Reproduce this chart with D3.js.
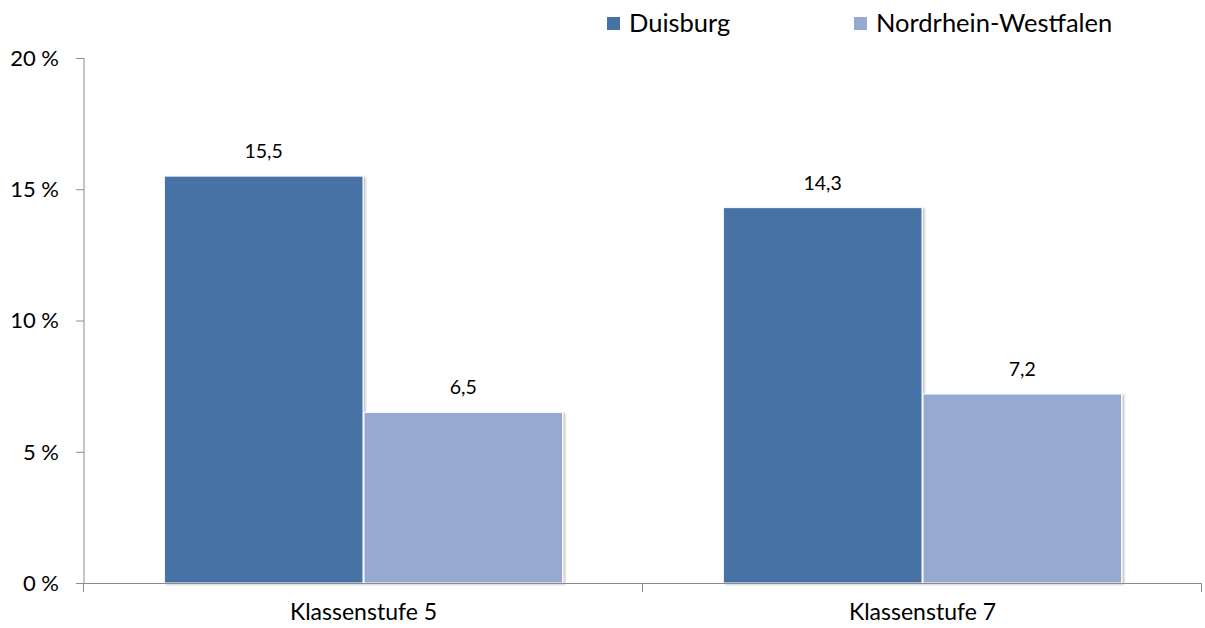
<!DOCTYPE html>
<html><head><meta charset="utf-8">
<script src="https://cdn.jsdelivr.net/npm/d3@7"></script>
<style>body{margin:0;background:#fff;} svg{display:block;font-family:Lato,"Open Sans",sans-serif;}</style>
</head><body>
<script>
const categories = ["Klassenstufe 5", "Klassenstufe 7"];
const seriesNames = ["Duisburg", "Nordrhein-Westfalen"];
const duisburg = [15.5, 14.3];
const nrw = [6.5, 7.2];
const yTicks = [0, 5, 10, 15, 20];
const colors = ["#4672A6", "#96AAD1"];

const W = 1205, H = 628;
const svg = d3.select("body").append("svg").attr("width", W).attr("height", H);
const defs = svg.append("defs");
const f = defs.append("filter").attr("id","sh").attr("x","-5%").attr("y","-5%").attr("width","115%").attr("height","115%");
f.append("feDropShadow").attr("dx",2).attr("dy",1).attr("stdDeviation",1.2).attr("flood-color","#000").attr("flood-opacity",0.25);

const x0 = d3.scaleBand().domain(categories).range([84, 1202]).paddingInner(0).paddingOuter(0);
const x1 = d3.scaleBand().domain(seriesNames).range([0, x0.bandwidth()]).paddingOuter(0.4).paddingInner(0.0);
const y = d3.scaleLinear().domain([0, 20]).range([583, 58]);

const data = categories.map((c, i) => ({cat: c, vals: [duisburg[i], nrw[i]]}));

// Bars
const g = svg.append("g");
data.forEach(d => {
  d.vals.forEach((v, j) => {
    const bx = x0(d.cat) + x1(seriesNames[j]);
    g.append("rect").attr("x", bx + 0.5).attr("y", y(v)).attr("width", x1.bandwidth() - 1)
      .attr("height", y(0) - y(v)).attr("fill", colors[j]).attr("stroke", "#fff").attr("stroke-width", 1)
      .attr("filter", "url(#sh)");
    g.append("text").attr("x", bx + x1.bandwidth()/2).attr("y", y(v) - 18)
      .attr("text-anchor", "middle").attr("font-size", 19.5).attr("fill", "#000")
      .text(d3.format(".1f")(v).replace(".", ","));
  });
});

// Y axis
const yAxis = d3.axisLeft(y).tickValues(yTicks).tickSize(8).tickFormat(d => d + " %");
const ya = svg.append("g").attr("transform", "translate(84,0)").call(yAxis);
ya.select(".domain").attr("stroke", "#8c8c8c").attr("d", "M0,58V583");
ya.selectAll(".tick line").attr("stroke", "#8c8c8c");
ya.selectAll(".tick text").attr("font-size", 22).attr("fill", "#000").attr("x", -25).attr("dy", "0.34em")
  .attr("font-family", "Lato,'Open Sans',sans-serif");

// X axis
const xa = svg.append("g").attr("transform", "translate(0,583)");
xa.append("line").attr("x1", 76).attr("x2", 1202).attr("y1", 0.5).attr("y2", 0.5).attr("stroke", "#8c8c8c");
const xTickPos = [x0.range()[0]].concat(categories.map(c => x0(c) + x0.bandwidth()));
xTickPos.forEach(p => {
  xa.append("line").attr("x1", Math.round(p)-0.5).attr("x2", Math.round(p)-0.5).attr("y1", 0).attr("y2", 9).attr("stroke", "#8c8c8c");
});
categories.forEach(c => {
  xa.append("text").attr("x", x0(c) + x0.bandwidth()/2).attr("y", 37).attr("text-anchor", "middle")
    .attr("font-size", 23).attr("fill", "#000").text(c);
});

// Legend
const legX = [607, 854];
seriesNames.forEach((s, i) => {
  svg.append("rect").attr("x", legX[i]).attr("y", 17).attr("width", 13).attr("height", 13).attr("fill", colors[i]);
  svg.append("text").attr("x", legX[i] + 22).attr("y", 32).attr("font-size", 25.5).attr("fill", "#000").text(s);
});
</script>
</body></html>
